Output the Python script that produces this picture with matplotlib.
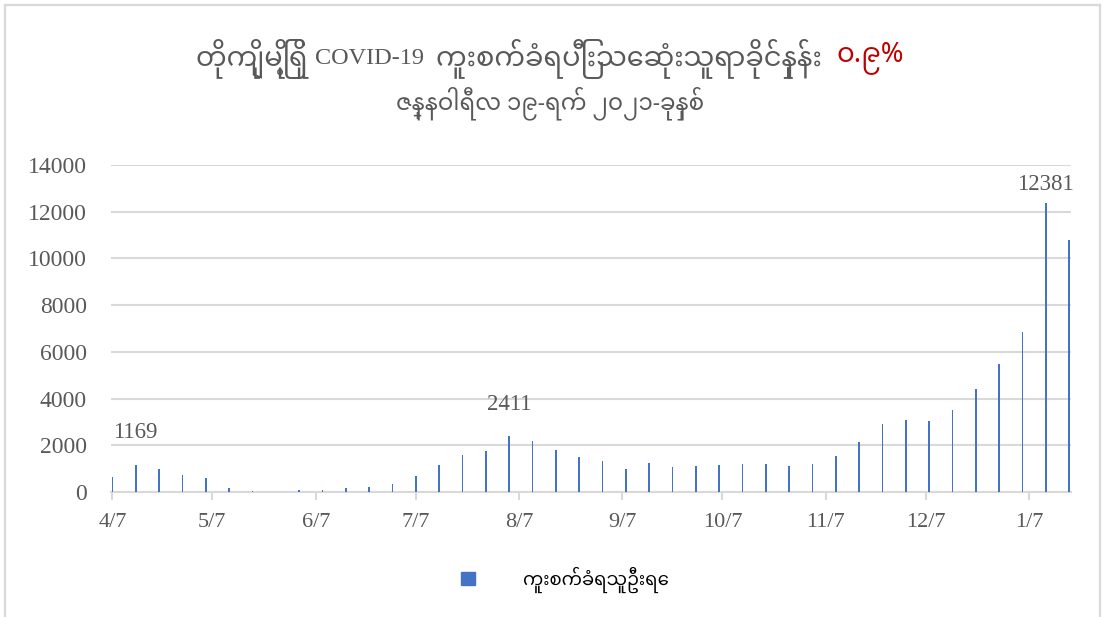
import matplotlib
matplotlib.use('Agg')
import matplotlib.pyplot as plt
from matplotlib import font_manager
import matplotlib.dates as mdates
import matplotlib.patches as mpatches
from matplotlib.lines import Line2D
import pandas as pd

# weekly new cases (Myanmar), 2020-04-07 .. 2021-01-19
start_date = '2020-04-07'
weekly_cases = [650, 1169, 970, 730, 612, 155, 55, 20, 85, 70,
                180, 200, 355, 700, 1155, 1583, 1755, 2411, 2183, 1783,
                1498, 1341, 998, 1227, 1084, 1127, 1156, 1198, 1198, 1113,
                1198, 1555, 2140, 2897, 3096, 3025, 3496, 4395, 5493, 6848,
                12381, 10772]
labelled = {1: '1169', 17: '2411', 40: '12381'}
tick_dates = ['2020-04-07', '2020-05-07', '2020-06-07', '2020-07-07', '2020-08-07',
              '2020-09-07', '2020-10-07', '2020-11-07', '2020-12-07', '2021-01-07']
tick_labels = ['4/7', '5/7', '6/7', '7/7', '8/7', '9/7', '10/7', '11/7', '12/7', '1/7']

title_parts = ['တိုကျိုမြို့ရှိ ', 'COVID-19  ', 'ကူးစက်ခံရပြီးသေဆုံးသူရာခိုင်နှုန်း  ', '၀.၉%']
title_sub = 'ဇန္နဝါရီလ ၁၉-ရက် ၂၀၂၁-ခုနှစ်'
legend_label = 'ကူးစက်ခံရသူဦးရေ'

installed = {f.name for f in font_manager.fontManager.ttflist}
def pick(*names):
    return [n for n in names if n in installed]

mm_fam = pick('Noto Sans Myanmar', 'Padauk', 'Noto Serif Myanmar') + ['DejaVu Sans']
serif_fam = ['Liberation Serif'] + mm_fam
plt.rcParams['font.family'] = serif_fam

dates = pd.date_range(start_date, periods=len(weekly_cases), freq='7D')
x = mdates.date2num(dates)
ticks = mdates.date2num(pd.to_datetime(tick_dates))

gray = '#595959'
W, H = 1106, 617
fig = plt.figure(figsize=(W / 100, H / 100), dpi=100)
ax = fig.add_axes([110.7 / W, 1 - 492 / H, 960 / W, 327 / H])

ax.bar(x, weekly_cases, width=0.5, color='#4472C4', zorder=3)
ax.set_xlim(x[0] - 0.5, x[-1] + 0.5)
ax.set_ylim(0, 14000)
ax.set_yticks(range(0, 14001, 2000))
ax.set_yticklabels([str(v) for v in range(0, 14001, 2000)])
ax.grid(axis='y', color='#D9D9D9', linewidth=1.5, zorder=0)
ax.set_xticks(ticks)
ax.set_xticklabels(tick_labels)
for s in ['top', 'right', 'left']:
    ax.spines[s].set_visible(False)
ax.spines['bottom'].set_color('#D9D9D9')
ax.spines['bottom'].set_linewidth(1.5)
ax.tick_params(axis='x', direction='out', length=6, width=1.5, color='#D9D9D9',
               labelsize=16, labelcolor=gray, pad=9)
ax.tick_params(axis='y', length=0, labelsize=17, labelcolor=gray, pad=17)

# label offsets in pixels above the bar top
offsets = {1: 32, 17: 31, 40: 18}
for i, txt in labelled.items():
    ax.annotate(txt, (x[i], weekly_cases[i]), xytext=(0, offsets[i] * 0.72), textcoords='offset points',
                ha='center', va='center', fontsize=16.5, color=gray)

# title line 1, drawn piece by piece (Latin in serif, rate in red)
ty = 1 - 58 / H
styles = [(19.6, gray, mm_fam), (17.5, gray, serif_fam), (19.6, gray, mm_fam), (19.6, '#C00000', mm_fam)]
pieces = [fig.text(0, ty, t, fontsize=s, color=c, family=f, ha='left', va='center')
          for t, (s, c, f) in zip(title_parts, styles)]
fig.canvas.draw()
widths = [p.get_window_extent().width for p in pieces]
xpos = 550 - sum(widths) / 2
for p, w in zip(pieces, widths):
    p.set_x(xpos / W)
    xpos += w
fig.text(550 / W, 1 - 103 / H, title_sub, fontsize=16.5, color=gray, family=mm_fam,
         ha='center', va='center')

# legend
fig.legend(handles=[mpatches.Patch(color='#4472C4', label=legend_label)],
           loc='center', bbox_to_anchor=(565 / W, 1 - 580 / H), frameon=False,
           handlelength=0.75, handleheight=0.75, handletextpad=2.7,
           labelcolor='black', prop={'family': mm_fam, 'size': 13})

# chart area border (left, top, right)
for xs, ys in [([5, 5], [H, 5]), ([5, 1099.5], [5, 5]), ([1099.5, 1099.5], [5, H])]:
    fig.add_artist(Line2D([v / W for v in xs], [1 - v / H for v in ys], color='#D9D9D9',
                          linewidth=1.6, transform=fig.transFigure))

fig.savefig('out.png', dpi=100)
